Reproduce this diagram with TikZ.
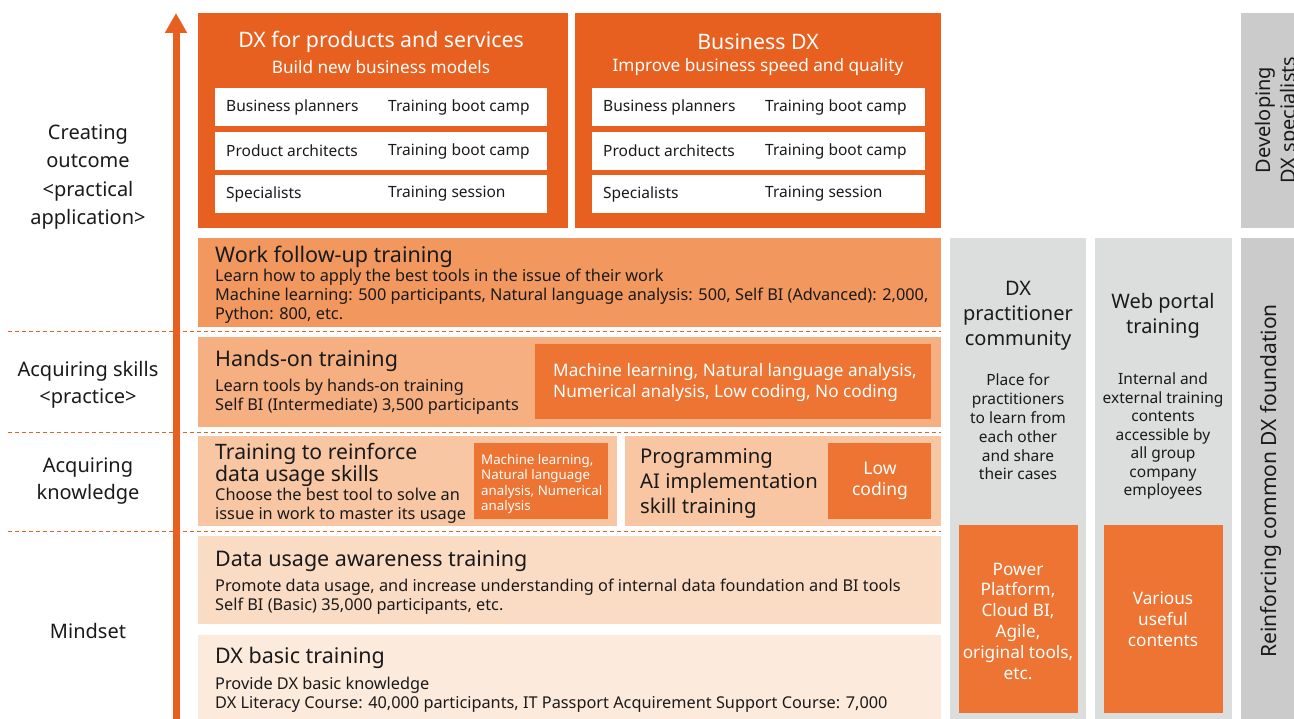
\documentclass[tikz,border=0pt]{standalone}
\usepackage{fontspec}
\setmainfont{Noto Sans}
\usetikzlibrary{arrows.meta}
\definecolor{dkor}{HTML}{E8601F}
\definecolor{wfc}{HTML}{F2985E}
\definecolor{hoc}{HTML}{F5AF80}
\definecolor{trc}{HTML}{F8C6A2}
\definecolor{duc}{HTML}{FADCC5}
\definecolor{dbc}{HTML}{FCEADC}
\definecolor{inc}{HTML}{ED7432}
\definecolor{gra}{HTML}{DCDDDD}
\definecolor{grb}{HTML}{CBCBCB}
\definecolor{txt}{HTML}{1A1A1A}
\tikzset{
  boxnw/.style={anchor=north west, inner sep=0pt, outer sep=0pt, draw=none},
  lefttxt/.style={anchor=west, inner sep=0pt, align=left, text=txt},
  ctxt/.style={inner sep=0pt, align=center, text=txt},
  wtxt/.style={inner sep=0pt, align=center, text=white},
  ttl/.style={font=\fontsize{21.5}{24}\selectfont},
  bdy/.style={font=\fontsize{16.3}{19}\selectfont},
  rowtxt/.style={anchor=west, inner sep=0pt, text=txt, font=\fontsize{15.5}{19}\selectfont},
  dashln/.style={draw=dkor, line width=1pt, dash pattern=on 4pt off 3pt},
}
\begin{document}
\begin{tikzpicture}[x=1pt,y=-1pt]
\useasboundingbox (0,0) rectangle (1294,719);
% top orange boxes
\node[boxnw, fill=dkor, minimum width=370pt, minimum height=215pt] (t1) at (198,13) {};
\node[boxnw, fill=dkor, minimum width=366pt, minimum height=215pt] (t2) at (575,13) {};
\node[wtxt, font=\fontsize{21.3}{24}\selectfont] (t1a) at (381,42) {DX for products and services};
\node[wtxt, font=\fontsize{17.2}{19}\selectfont] (t1b) at (381,67) {Build new business models};
\node[wtxt, font=\fontsize{21.3}{24}\selectfont] (t2a) at (758,42) {Business DX};
\node[wtxt, font=\fontsize{17.2}{19}\selectfont] (t2b) at (758,67) {Improve business speed and quality};
% rows
\foreach \y/\a/\b [count=\i] in {88/Business planners/Training boot camp,132/Product architects/Training boot camp,175/Specialists/Training session}{
  \node[boxnw, fill=white, minimum width=332pt, minimum height=38pt] (ra\i) at (215,\y) {};
  \node[rowtxt] (ra\i a) at (226,\y+19) {\a};
  \node[rowtxt] (ra\i b) at (388,\y+19) {\b};
  \node[boxnw, fill=white, minimum width=333pt, minimum height=38pt] (rb\i) at (592,\y) {};
  \node[rowtxt] (rb\i a) at (603,\y+19) {\a};
  \node[rowtxt] (rb\i b) at (765,\y+19) {\b};
}
% gray side
\node[boxnw, fill=grb, minimum width=60pt, minimum height=215pt] (dev) at (1241,13) {};
\node[ctxt, rotate=90, font=\fontsize{20}{25}\selectfont] (devt) at (1278,120) {Developing\\DX specialists};
\node[boxnw, fill=grb, minimum width=60pt, minimum height=481pt] (rei) at (1241,238) {};
\node[ctxt, rotate=90, font=\fontsize{21}{24}\selectfont] (reit) at (1271,481) {Reinforcing common DX foundation};
% columns
\node[boxnw, fill=gra, minimum width=136pt, minimum height=481pt] (c1) at (950,238) {};
\node[boxnw, fill=gra, minimum width=137pt, minimum height=481pt] (c2) at (1095,238) {};
\node[ctxt, font=\fontsize{20}{25}\selectfont] (c1t) at (1018,316) {DX\\practitioner\\community};
\node[ctxt, font=\fontsize{15.5}{18.8}\selectfont] (c1b) at (1018,427) {Place for\\practitioners\\to learn from\\each other\\and share\\their cases};
\node[ctxt, font=\fontsize{20}{25}\selectfont] (c2t) at (1163,316) {Web portal\\training};
\node[ctxt, font=\fontsize{15.5}{18.5}\selectfont] (c2b) at (1163,436) {Internal and\\external training\\contents\\accessible by\\all group\\company\\employees};
\node[boxnw, fill=inc, minimum width=119pt, minimum height=188pt] (c1i) at (959,525) {};
\node[boxnw, fill=inc, minimum width=119pt, minimum height=188pt] (c2i) at (1104,525) {};
\node[wtxt, font=\fontsize{17.2}{20.8}\selectfont] (c1it) at (1018,621) {Power\\Platform,\\Cloud BI,\\Agile,\\original tools,\\etc.};
\node[wtxt, font=\fontsize{17.2}{20.8}\selectfont] (c2it) at (1163,619) {Various\\useful\\contents};
% work follow-up
\node[boxnw, fill=wfc, minimum width=743pt, minimum height=89pt] (wf) at (198,238) {};
\node[lefttxt, ttl] (wft) at (215,257) {Work follow-up training};
\node[lefttxt, bdy] (wfb) at (215,296) {Learn how to apply the best tools in the issue of their work\\Machine learning: 500 participants, Natural language analysis: 500, Self BI (Advanced): 2,000,\\Python: 800, etc.};
% hands-on
\node[boxnw, fill=hoc, minimum width=743pt, minimum height=90pt] (ho) at (198,337) {};
\node[lefttxt, ttl] (hot) at (215,361) {Hands-on training};
\node[lefttxt, bdy] (hob) at (215,397) {Learn tools by hands-on training\\Self BI (Intermediate) 3,500 participants};
\node[boxnw, fill=inc, minimum width=396pt, minimum height=75pt] (hoi) at (535,344) {};
\node[anchor=west, inner sep=0pt, align=left, text=white, font=\fontsize{17.2}{21}\selectfont] (hoit) at (553,383) {Machine learning, Natural language analysis,\\Numerical analysis, Low coding, No coding};
% training to reinforce
\node[boxnw, fill=trc, minimum width=419pt, minimum height=90pt] (tr) at (198,436) {};
\node[lefttxt, font=\fontsize{21.2}{21.5}\selectfont] (trt) at (215,465) {Training to reinforce\\data usage skills};
\node[lefttxt, bdy] (trb) at (215,506) {Choose the best tool to solve an\\issue in work to master its usage};
\node[boxnw, fill=inc, minimum width=134pt, minimum height=76pt] (tri) at (474,443) {};
\node[anchor=west, inner sep=0pt, align=left, text=white, font=\fontsize{13.3}{15.6}\selectfont] (trit) at (481,484) {Machine learning,\\Natural language\\analysis, Numerical\\analysis};
% programming
\node[boxnw, fill=trc, minimum width=316pt, minimum height=90pt] (pr) at (625,436) {};
\node[lefttxt, font=\fontsize{20.3}{25}\selectfont] (prt) at (640,483) {Programming\\AI implementation\\skill training};
\node[boxnw, fill=inc, minimum width=103pt, minimum height=76pt] (pri) at (828,443) {};
\node[wtxt, font=\fontsize{17.5}{21}\selectfont] (prit) at (880,481) {Low\\coding};
% data usage
\node[boxnw, fill=duc, minimum width=743pt, minimum height=88pt] (du) at (198,536) {};
\node[lefttxt, ttl] (dut) at (215,561) {Data usage awareness training};
\node[lefttxt, bdy] (dub) at (215,597) {Promote data usage, and increase understanding of internal data foundation and BI tools\\Self BI (Basic) 35,000 participants, etc.};
% DX basic
\node[boxnw, fill=dbc, minimum width=743pt, minimum height=84pt] (db) at (198,635) {};
\node[lefttxt, ttl] (dbt) at (215,658) {DX basic training};
\node[lefttxt, bdy] (dbb) at (215,695) {Provide DX basic knowledge\\DX Literacy Course: 40,000 participants, IT Passport Acquirement Support Course: 7,000};
% dashed separators
\foreach \y [count=\i] in {332,432,531}{
  \coordinate (dl\i) at (8,\y);
  \coordinate (dr\i) at (941,\y);
  \draw[dashln] (dl\i) -- (dr\i);
}
% arrow
\coordinate (abot) at (176,722);
\coordinate (atop) at (176,13);
\draw[dkor, line width=7pt, -{Triangle[width=21pt,length=20pt]}] (abot) -- (atop);
% left labels
\node[ctxt, font=\fontsize{20}{28.5}\selectfont] (l1) at (88,177) {Creating\\outcome\\<practical\\application>};
\node[ctxt, font=\fontsize{20}{27.5}\selectfont] (l2) at (88,385) {Acquiring skills\\<practice>};
\node[ctxt, font=\fontsize{20}{27.5}\selectfont] (l3) at (88,481) {Acquiring\\knowledge};
\node[ctxt, font=\fontsize{20}{24}\selectfont] (l4) at (88,631) {Mindset};
\end{tikzpicture}
\end{document}
